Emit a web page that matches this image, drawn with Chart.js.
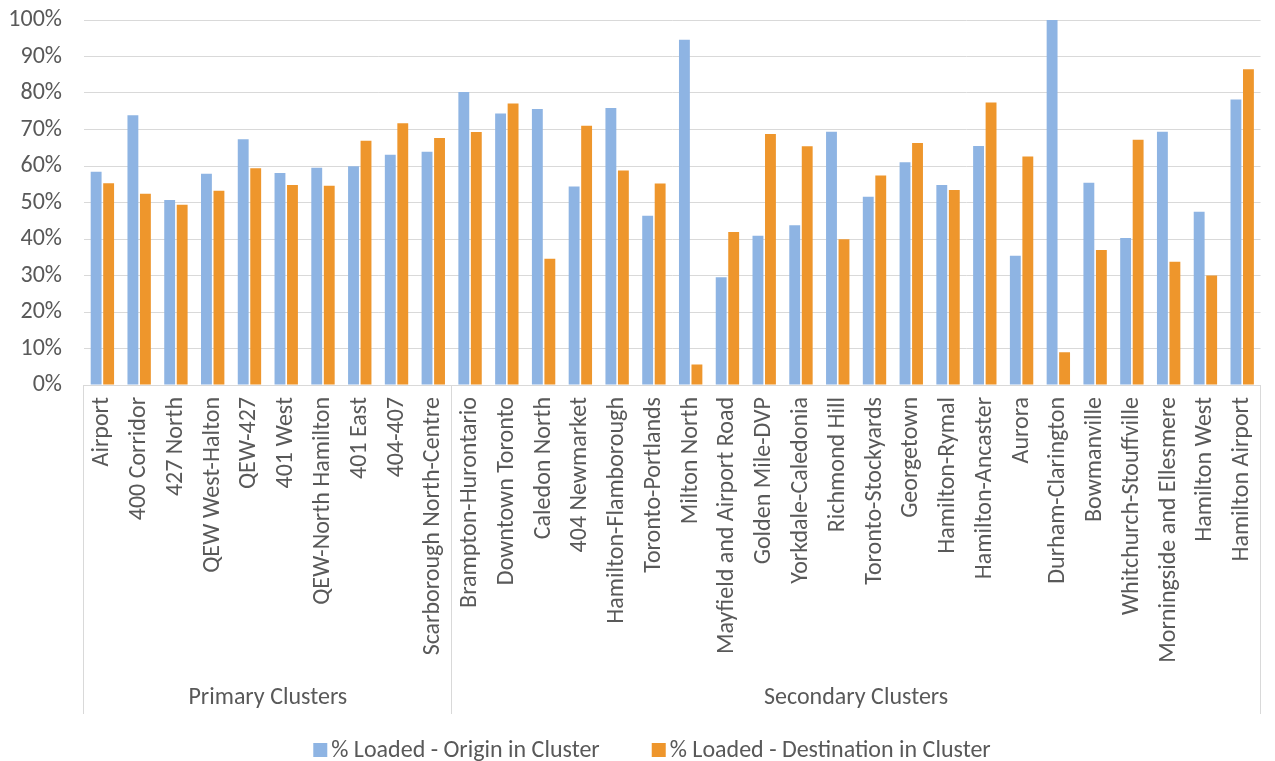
<!DOCTYPE html>
<html>
<head>
<meta charset="utf-8">
<script src="https://cdn.jsdelivr.net/npm/chart.js@4.4.0/dist/chart.umd.min.js"></script>
<style>
    html, body { margin: 0; padding: 0; background: #fff; }
</style>
</head>
<body>
<canvas id="loadChart" width="1275" height="761"></canvas>
<script>
// Category names, in order of the x axis
const clusters = [
    'Airport', '400 Corridor', '427 North', 'QEW West-Halton', 'QEW-427', '401 West',
    'QEW-North Hamilton', '401 East', '404-407', 'Scarborough North-Centre',
    'Brampton-Hurontario', 'Downtown Toronto', 'Caledon North', '404 Newmarket',
    'Hamilton-Flamborough', 'Toronto-Portlands', 'Milton North', 'Mayfield and Airport Road',
    'Golden Mile-DVP', 'Yorkdale-Caledonia', 'Richmond Hill', 'Toronto-Stockyards',
    'Georgetown', 'Hamilton-Rymal', 'Hamilton-Ancaster', 'Aurora', 'Durham-Clarington',
    'Bowmanville', 'Whitchurch-Stouffville', 'Morningside and Ellesmere', 'Hamilton West',
    'Hamilton Airport'
];

// % loaded
const originLoaded = [
    58.4, 73.9, 50.7, 57.9, 67.3, 58.1, 59.5, 59.9, 63.1, 63.9,
    80.3, 74.4, 75.6, 54.4, 75.9, 46.4, 94.6, 29.5, 40.9, 43.8,
    69.4, 51.6, 61.0, 54.8, 65.5, 35.4, 100.0, 55.4, 40.3, 69.4,
    47.5, 78.2
];
const destinationLoaded = [
    55.3, 52.4, 49.4, 53.2, 59.4, 54.8, 54.6, 66.9, 71.7, 67.7,
    69.3, 77.1, 34.6, 71.0, 58.8, 55.2, 5.6, 41.9, 68.8, 65.4,
    39.9, 57.4, 66.3, 53.4, 77.4, 62.6, 9.0, 37.0, 67.2, 33.8,
    30.0, 86.5
];

// Outer level of the category axis
const groupNames = ['Primary Clusters', 'Secondary Clusters'];
const groupSizes = [10, 22];

const seriesNames = ['% Loaded - Origin in Cluster', '% Loaded - Destination in Cluster'];

const FONT = 'Calibri, Carlito, Lato, sans-serif';
const FONT_SIZE = 24;
const TEXT = '#595959';
const LINE = '#D9D9D9';

// draws the group row, its separators and the legend under the axis
const clusterGroups = {
    id: 'clusterGroups',
    afterDraw(chart) {
        const ctx = chart.ctx;
        const x = chart.scales.x;
        const area = chart.chartArea;
        const half = (x.getPixelForValue(1) - x.getPixelForValue(0)) / 2;
        const lineBottom = 714;

        ctx.save();
        ctx.strokeStyle = LINE;
        ctx.lineWidth = 1;
        ctx.fillStyle = TEXT;
        ctx.font = FONT_SIZE + 'px ' + FONT;
        ctx.textAlign = 'center';
        ctx.textBaseline = 'middle';

        let start = 0;
        const edges = [x.getPixelForValue(0) - half];
        groupSizes.forEach((size, g) => {
            const end = start + size - 1;
            const right = x.getPixelForValue(end) + half;
            edges.push(right);
            ctx.fillText(groupNames[g], (edges[g] + right) / 2, 698);
            start += size;
        });
        edges.forEach(px => {
            const sx = Math.round(px) - 0.5;
            ctx.beginPath();
            ctx.moveTo(sx, area.bottom);
            ctx.lineTo(sx, lineBottom);
            ctx.stroke();
        });

        // legend
        const box = 14, gap = 4, spacing = 52, cy = 750;
        const items = chart.data.datasets.map(ds => ({
            text: ds.label, color: ds.backgroundColor, w: ctx.measureText(ds.label).width
        }));
        const total = items.reduce((s, it) => s + box + gap + it.w, 0) + spacing * (items.length - 1);
        let cx = 652 - total / 2;
        ctx.textAlign = 'left';
        items.forEach(it => {
            ctx.fillStyle = it.color;
            ctx.fillRect(cx, cy - box / 2, box, box);
            cx += box + gap;
            ctx.fillStyle = TEXT;
            ctx.fillText(it.text, cx, cy + 1);
            cx += it.w + spacing;
        });
        ctx.restore();
    }
};

const ctx = document.getElementById('loadChart').getContext('2d');
new Chart(ctx, {
    type: 'bar',
    data: {
        labels: clusters,
        datasets: [{
            label: seriesNames[0],
            data: originLoaded,
            backgroundColor: '#8EB4E3',
            barPercentage: 0.87,
            categoryPercentage: 0.68
        }, {
            label: seriesNames[1],
            data: destinationLoaded,
            backgroundColor: '#EE962C',
            barPercentage: 0.87,
            categoryPercentage: 0.68
        }]
    },
    options: {
        responsive: false,
        animation: false,
        layout: { padding: { top: 20, right: 1, left: 0, bottom: 0 } },
        plugins: {
            legend: { display: false },
            tooltip: { enabled: false }
        },
        scales: {
            y: {
                min: 0,
                max: 100,
                ticks: {
                    stepSize: 10,
                    color: TEXT,
                    padding: 22,
                    font: { family: FONT, size: FONT_SIZE },
                    callback: v => v + '%'
                },
                grid: { color: LINE, lineWidth: 1, drawTicks: false },
                border: { display: false },
                afterFit(scale) {
                    scale.width = 84;
                    scale.paddingTop = 14;
                    scale.paddingBottom = 14;
                }
            },
            x: {
                ticks: {
                    autoSkip: false,
                    minRotation: 90,
                    maxRotation: 90,
                    color: TEXT,
                    padding: 4,
                    font: { family: FONT, size: FONT_SIZE }
                },
                grid: { display: false },
                border: { display: true, color: LINE, width: 1 },
                afterFit(scale) { scale.height = 761 - 385; }
            }
        }
    },
    plugins: [clusterGroups]
});
</script>
</body>
</html>
